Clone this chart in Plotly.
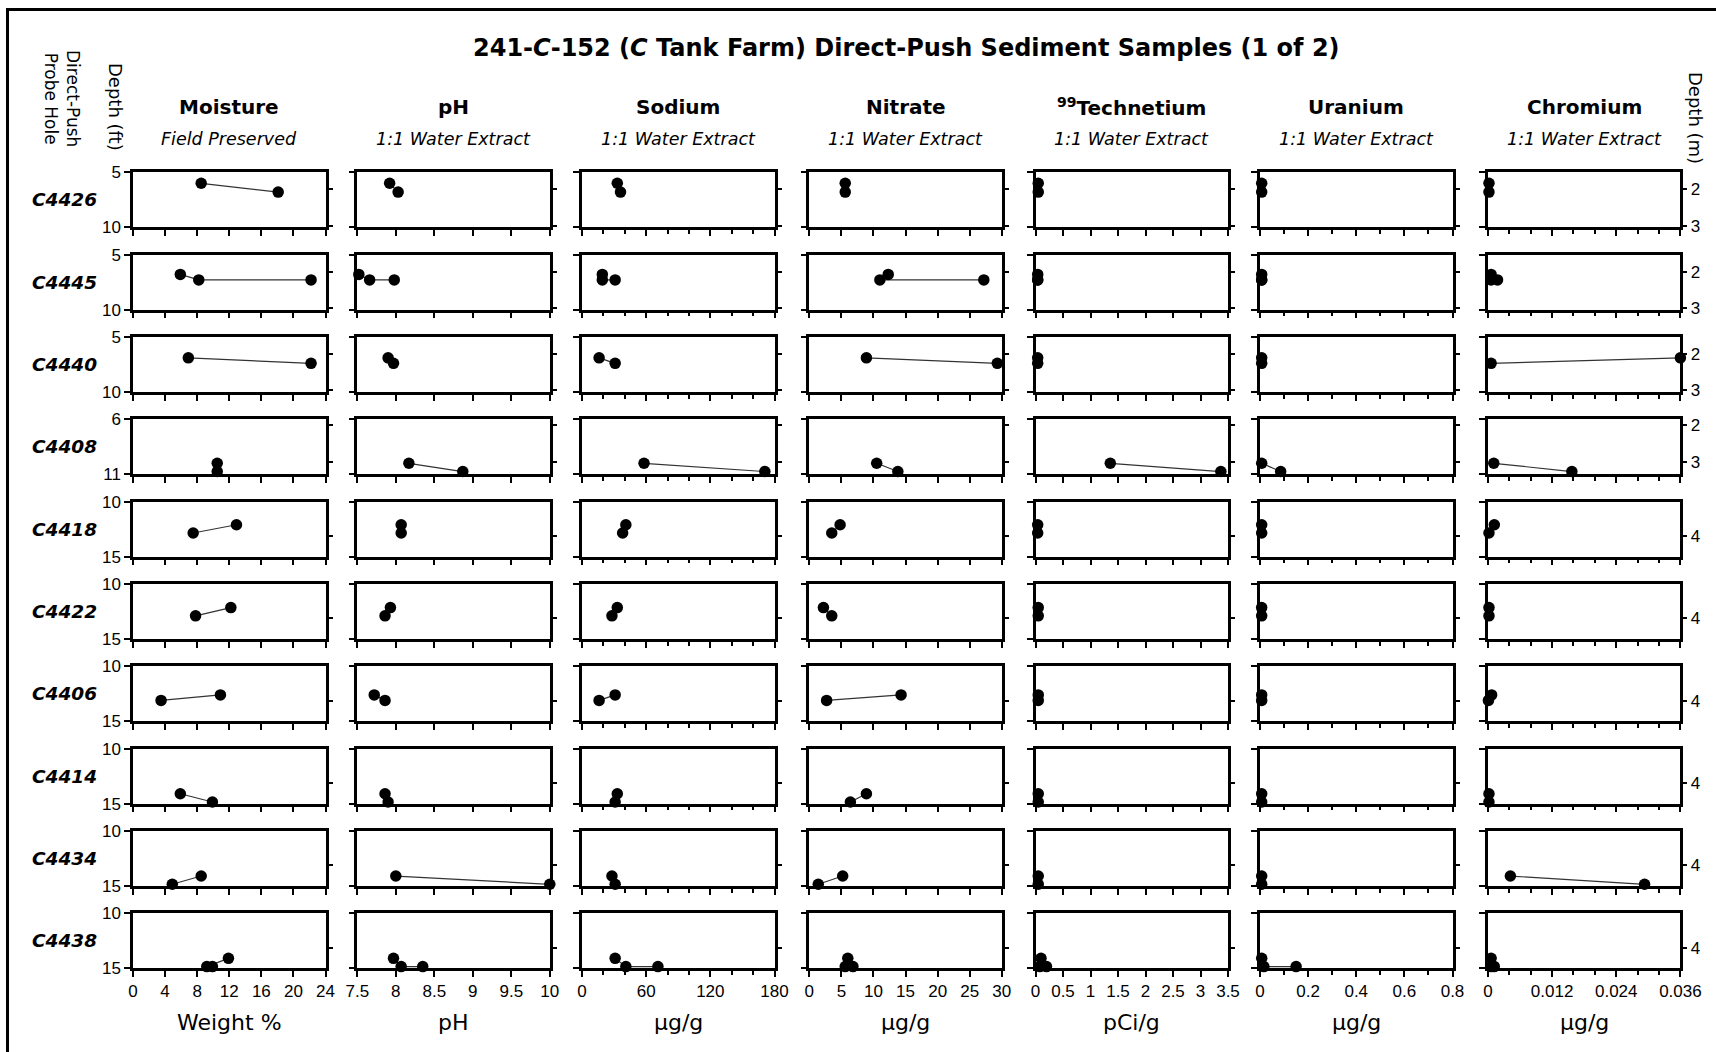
import plotly.graph_objects as go

# ---------------------------------------------------------------- data
probe_holes = ["C4426", "C4445", "C4440", "C4408", "C4418",
               "C4422", "C4406", "C4414", "C4434", "C4438"]

# sample depths (ft bgs) for each probe hole
depth_ft = [
    [6.0, 6.8],
    [6.8, 7.3, 7.3],
    [6.9, 7.4],
    [10.0, 10.75],
    [12.1, 12.85],
    [12.15, 12.9],
    [12.6, 13.1],
    [14.1, 14.85],
    [14.1, 14.85],
    [14.1, 14.85, 14.85],
]
depth_window_ft = [(5, 10), (5, 10), (5, 10), (6, 11), (10, 15),
                   (10, 15), (10, 15), (10, 15), (10, 15), (10, 15)]
depth_m_ticks = [[2, 3], [2, 3], [2, 3], [2, 3], [4],
                 [4], [4], [4], [4], [4]]

moisture = [[8.5, 18.1], [5.9, 8.2, 22.2], [6.9, 22.2], [10.5, 10.5], [12.9, 7.5],
            [12.2, 7.8], [10.9, 3.5], [5.9, 9.9], [8.5, 4.9], [11.9, 9.2, 9.9]]
ph = [[7.92, 8.03], [7.52, 7.66, 7.98], [7.9, 7.97], [8.17, 8.87], [8.07, 8.07],
      [7.93, 7.86], [7.72, 7.86], [7.86, 7.9], [8.0, 10.0], [7.97, 8.07, 8.35]]
sodium = [[33, 36], [19, 19, 31], [16, 31], [58, 171], [41, 38],
          [33, 28], [31, 16], [33, 31], [28, 31], [31, 41, 71]]
nitrate = [[5.6, 5.6], [12.3, 11.0, 27.2], [8.9, 29.3], [10.5, 13.8], [4.8, 3.5],
           [2.2, 3.5], [14.3, 2.7], [8.9, 6.4], [5.2, 1.4], [6.0, 5.6, 6.8]]
technetium = [[0.05, 0.05], [0.04, 0.04, 0.04], [0.04, 0.04], [1.36, 3.37], [0.04, 0.04],
              [0.05, 0.05], [0.05, 0.05], [0.05, 0.05], [0.05, 0.05], [0.1, 0.08, 0.2]]
uranium = [[0.007, 0.007], [0.007, 0.007, 0.007], [0.007, 0.007], [0.007, 0.086], [0.007, 0.007],
           [0.007, 0.007], [0.007, 0.007], [0.007, 0.007], [0.007, 0.007], [0.007, 0.016, 0.15]]
chromium = [[0.0002, 0.0002], [0.0006, 0.0006, 0.0018], [0.036, 0.0006], [0.0011, 0.0157],
            [0.0012, 0.0002], [0.0002, 0.0002], [0.0007, 0.0001], [0.0002, 0.0002],
            [0.0042, 0.0293], [0.0006, 0.0006, 0.0012]]

analyte_values = [moisture, ph, sodium, nitrate, technetium, uranium, chromium]
analyte_names = ["Moisture", "pH", "Sodium", "Nitrate", "<sup>99</sup>Technetium",
                 "Uranium", "Chromium"]
analyte_methods = ["Field Preserved"] + ["1:1 Water Extract"] * 6
analyte_units = ["Weight %", "pH", "µg/g", "µg/g", "pCi/g", "µg/g", "µg/g"]

x_ranges = [(0, 24), (7.5, 10), (0, 180), (0, 30), (0, 3.5), (0, 0.8), (0, 0.036)]
x_tickvals = [
    [0, 4, 8, 12, 16, 20, 24],
    [7.5, 8, 8.5, 9, 9.5, 10],
    [0, 60, 120, 180],
    [0, 5, 10, 15, 20, 25, 30],
    [0, 0.5, 1, 1.5, 2, 2.5, 3, 3.5],
    [0, 0.2, 0.4, 0.6, 0.8],
    [0, 0.012, 0.024, 0.036],
]
x_ticktext = [
    ["0", "4", "8", "12", "16", "20", "24"],
    ["7.5", "8", "8.5", "9", "9.5", "10"],
    ["0", "60", "120", "180"],
    ["0", "5", "10", "15", "20", "25", "30"],
    ["0", "0.5", "1", "1.5", "2", "2.5", "3", "3.5"],
    ["0", "0.2", "0.4", "0.6", "0.8"],
    ["0", "0.012", "0.024", "0.036"],
]
x_minor_ticks = [
    None,
    None,
    [20, 40, 80, 100, 140, 160],
    None,
    None,
    [0.1, 0.3, 0.5, 0.7],
    [0.004, 0.008, 0.016, 0.020, 0.028, 0.032],
]

FT_PER_M = 3.2808

# ---------------------------------------------------------------- layout geometry (px)
W, H = 1716, 1052
col_left = [133.0, 357.3, 582.0, 809.3, 1035.5, 1260.0, 1487.9]
panel_w = 192.5
row_top0, row_pitch, panel_h = 172.3, 82.33, 55.0

FONT = "DejaVu Sans"
TICK_FONT = dict(family="Liberation Sans", size=17, color="black")


def px(x):
    return x / W


def py(y):
    return 1 - y / H


def label(text, x, y, size, angle=0):
    return dict(text=text, x=px(x), y=py(y), xref="paper", yref="paper",
                textangle=angle, showarrow=False, xanchor="center", yanchor="middle",
                font=dict(family=FONT, size=size, color="black"))


fig = go.Figure()
layout_axes = {}
n_rows, n_cols = len(probe_holes), len(analyte_names)

for r in range(n_rows):
    top = row_top0 + r * row_pitch
    bot = top + panel_h
    lo, hi = depth_window_ft[r]
    for c in range(n_cols):
        n = r * n_cols + c + 1
        m = n_rows * n_cols + n
        left = col_left[c]
        right = left + panel_w

        xa = dict(
            domain=[px(left), px(right)], range=list(x_ranges[c]), anchor=f"y{n}",
            showline=True, linewidth=2.5, linecolor="black", mirror=True,
            ticks="outside", ticklen=6, tickwidth=2, tickcolor="black",
            tickmode="array", tickvals=x_tickvals[c], ticktext=x_ticktext[c],
            showticklabels=(r == n_rows - 1), tickfont=TICK_FONT,
            showgrid=False, zeroline=False, layer="below traces", fixedrange=True,
            automargin=False,
        )
        if x_minor_ticks[c]:
            xa["minor"] = dict(tickmode="array", tickvals=x_minor_ticks[c],
                               ticks="outside", ticklen=4, tickwidth=2,
                               tickcolor="black", showgrid=False)
        ya = dict(
            domain=[py(bot), py(top)], range=[hi, lo], anchor=f"x{n}",
            showline=True, linewidth=2.5, linecolor="black", mirror=True,
            ticks="outside", ticklen=6, tickwidth=2, tickcolor="black",
            tickmode="array", tickvals=[lo, hi], ticktext=[str(lo), str(hi)],
            showticklabels=(c == 0), tickfont=TICK_FONT,
            showgrid=False, zeroline=False, layer="below traces", fixedrange=True,
            automargin=False,
        )
        # metric depth scale on the right edge of each panel
        ya_m = dict(
            overlaying=f"y{n}", anchor=f"x{n}", side="right",
            range=[hi / FT_PER_M, lo / FT_PER_M],
            showline=False, ticks="outside", ticklen=6, tickwidth=2, tickcolor="black",
            tickmode="array", tickvals=depth_m_ticks[r],
            ticktext=[str(v) for v in depth_m_ticks[r]],
            showticklabels=(c == n_cols - 1), tickfont=TICK_FONT,
            showgrid=False, zeroline=False, fixedrange=True, automargin=False,
        )
        layout_axes["xaxis" if n == 1 else f"xaxis{n}"] = xa
        layout_axes["yaxis" if n == 1 else f"yaxis{n}"] = ya
        layout_axes[f"yaxis{m}"] = ya_m

        fig.add_trace(go.Scatter(
            x=analyte_values[c][r], y=depth_ft[r],
            xaxis=f"x{n}", yaxis=f"y{n}",
            mode="lines+markers",
            line=dict(color="#333333", width=1.2),
            marker=dict(size=11.5, color="black"),
            cliponaxis=False, showlegend=False, hoverinfo="skip",
        ))
        # empty trace so the metric axis gets its own subplot and draws its ticks
        fig.add_trace(go.Scatter(
            x=[None], y=[None], xaxis=f"x{n}", yaxis=f"y{m}",
            mode="markers", showlegend=False, hoverinfo="skip",
        ))

annotations = [label(
    "<b>241-<i>C</i>-152 (<i>C</i> Tank Farm) Direct-Push Sediment Samples (1 of 2)</b>",
    906, 48, 24)]

for c in range(n_cols):
    xc = col_left[c] + panel_w / 2
    annotations.append(label(f"<b>{analyte_names[c]}</b>", xc, 107, 20))
    annotations.append(label(f"<i>{analyte_methods[c]}</i>", xc, 139, 17.5))
    annotations.append(label(analyte_units[c], xc, 1022, 22))

for r in range(n_rows):
    yc = row_top0 + r * row_pitch + panel_h / 2
    annotations.append(label(f"<b><i>{probe_holes[r]}</i></b>", 64, yc, 18.5))

annotations.append(label("Direct-Push<br>Probe Hole", 62, 99, 17, 90))
annotations.append(label("Depth (ft)", 115, 107, 18, 90))
annotations.append(label("Depth (m)", 1696, 118, 18, 90))

# page frame
shapes = [
    dict(type="line", xref="paper", yref="paper", x0=px(7.5), x1=px(7.5),
         y0=py(9.5), y1=py(1060), line=dict(color="black", width=3)),
    dict(type="line", xref="paper", yref="paper", x0=px(6), x1=px(1730),
         y0=py(9.5), y1=py(9.5), line=dict(color="black", width=3)),
]

fig.update_layout(
    width=W, height=H,
    margin=dict(l=0, r=0, t=0, b=0, autoexpand=False),
    paper_bgcolor="white", plot_bgcolor="white",
    showlegend=False,
    annotations=annotations,
    shapes=shapes,
    **layout_axes,
)

fig.write_html("out.html")
